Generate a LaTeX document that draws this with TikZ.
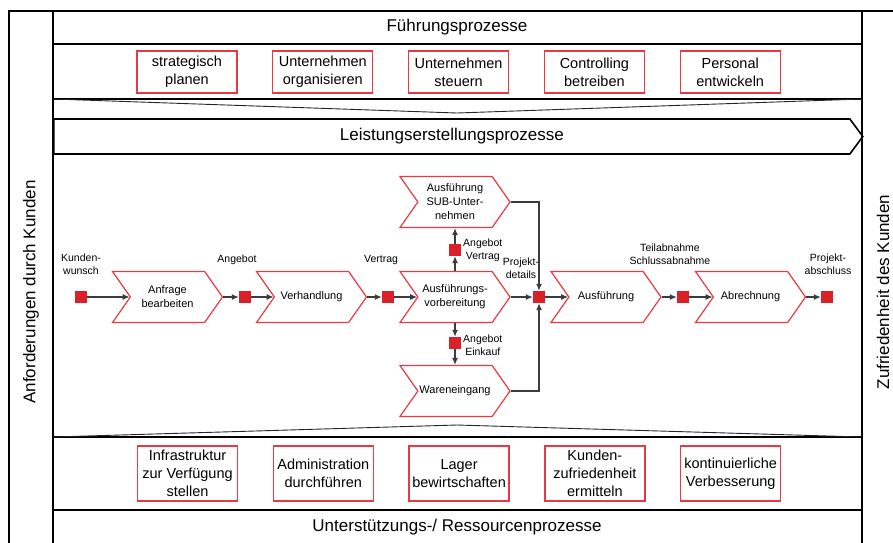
\documentclass[tikz,border=0pt]{standalone}
\usepackage{fontspec}
\setmainfont{Liberation Sans}
\usetikzlibrary{shapes,arrows,arrows.meta,positioning,calc}

\definecolor{boxred}{RGB}{232,58,68}
\definecolor{evred}{RGB}{218,32,40}
\definecolor{lnk}{RGB}{60,60,60}

\begin{document}
\begin{tikzpicture}[
  x=1pt, y=-1pt,
  node distance=34.5pt,
  frame/.style={line width=1.6pt, draw=black},
  funnel/.style={line width=0.9pt, draw=black!85},
  task/.style={rectangle, draw=boxred, line width=1.3pt, minimum width=100pt, minimum height=42pt, inner sep=1pt, align=center, font=\fontsize{14.5}{18}\selectfont},
  func/.style={signal, signal from=west, signal to=east, signal pointer angle=110, draw=boxred, line width=1.2pt, fill=white, minimum width=110pt, minimum height=51pt, inner sep=1pt, align=center, font=\fontsize{11}{14}\selectfont},
  event/.style={rectangle, fill=evred, minimum size=12pt, inner sep=0pt},
  lbl/.style={align=center, inner sep=0pt, font=\fontsize{10.5}{13}\selectfont},
  head/.style={inner sep=0pt, font=\fontsize{17}{20}\selectfont},
  arrow/.style={-{Latex[length=7pt,width=6pt]}, line width=1.2pt, draw=lnk}
]
  \useasboundingbox (0,0) rectangle (893,542);
  \clip (0,0) rectangle (893,542);

  % Rahmen
  \draw[frame] (9,560) -- (9,11) -- (900,11);
  \draw[frame] (53,11) -- (53,560);
  \draw[frame] (862,11) -- (862,560);
  \draw[frame] (53,44) -- (862,44);
  \draw[frame] (53,99) -- (862,99);
  \draw[frame] (53,437) -- (862,437);
  \draw[frame] (53,510) -- (862,510);
  \draw[funnel] (53,99) -- (457,113) -- (862,99);
  \draw[funnel] (53,437) -- (457,425) -- (862,437);

  % Seitentexte
  \node[head, rotate=90] (links) at (31,292) {Anforderungen durch Kunden};
  \node[head, rotate=90] (rechts) at (883,292) {Zufriedenheit des Kunden};

  % Fuehrungsprozesse
  \node[head] (fhead) at (457,27) {Führungsprozesse};
  \node[task] (f1) at (187,72) {strategisch\\planen};
  \node[task, right=of f1] (f2) {Unternehmen\\organisieren};
  \node[task, right=of f2] (f3) {Unternehmen\\steuern};
  \node[task, right=of f3] (f4) {Controlling\\betreiben};
  \node[task, right=of f4] (f5) {Personal\\entwickeln};

  % Leistungserstellung
  \node[signal, signal to=east, signal pointer angle=107, frame, minimum width=809pt, minimum height=35pt, anchor=west, font=\fontsize{17}{20}\selectfont] (leist) at (53,136.5) {Leistungserstellungsprozesse};

  \node[func] (anfr) at (167.5,297) {Anfrage\\bearbeiten};
  \node[func] (verh) at (311.5,297) {Verhandlung};
  \node[func] (vorb) at (455,297) {Ausführungs-\\vorbereitung};
  \node[func] (sub) at (455,202) {Ausführung\\SUB-Unter-\\nehmen};
  \node[func] (waren) at (455,391) {Wareneingang};
  \node[func] (ausf) at (606,297) {Ausführung};
  \node[func] (abr) at (750.5,297) {Abrechnung};

  \node[event] (e1) at (81,297) {};
  \node[event] (e2) at (245,297) {};
  \node[event] (e3) at (388,297) {};
  \node[event] (e4) at (539,297) {};
  \node[event] (e5) at (683,297) {};
  \node[event] (e6) at (827,297) {};
  \node[event] (eup) at (455,250) {};
  \node[event] (edn) at (455,343) {};

  \node[lbl] (l1) at (81,264) {Kunden-\\wunsch};
  \node[lbl] (l2) at (237,260) {Angebot};
  \node[lbl] (l3) at (381,260) {Vertrag};
  \node[lbl] (l4) at (521,268) {Projekt-\\details};
  \node[lbl] (l5) at (670,254) {Teilabnahme\\Schlussabnahme};
  \node[lbl] (l6) at (828,264) {Projekt-\\abschluss};
  \node[lbl, anchor=west] (l7) at (463,250) {Angebot\\Vertrag};
  \node[lbl, anchor=west] (l8) at (463,345) {Angebot\\Einkauf};

  \draw[arrow] (e1) -- (anfr.west);
  \draw[arrow] (anfr.east) -- (e2);
  \draw[arrow] (e2) -- (verh.west);
  \draw[arrow] (verh.east) -- (e3);
  \draw[arrow] (e3) -- (vorb.west);
  \draw[arrow] (vorb.north) -- (eup);
  \draw[arrow] (eup) -- (sub.south);
  \draw[arrow] (vorb.south) -- (edn);
  \draw[arrow] (edn) -- (waren.north);
  \draw[arrow] (vorb.east) -- (e4);
  \draw[arrow] (sub.east) -| (e4);
  \draw[arrow] (waren.east) -| (e4);
  \draw[arrow] (e4) -- (ausf.west);
  \draw[arrow] (ausf.east) -- (e5);
  \draw[arrow] (e5) -- (abr.west);
  \draw[arrow] (abr.east) -- (e6);

  % Unterstuetzungsprozesse
  \node[task, minimum height=55pt] (s1) at (187.5,473.5) {Infrastruktur\\zur Verfügung\\stellen};
  \node[task, minimum height=55pt, right=of s1] (s2) {Administration\\durchführen};
  \node[task, minimum height=55pt, right=of s2] (s3) {Lager\\bewirtschaften};
  \node[task, minimum height=55pt, right=of s3] (s4) {Kunden-\\zufriedenheit\\ermitteln};
  \node[task, minimum height=55pt, right=of s4] (s5) {kontinuierliche\\Verbesserung};
  \node[head] (uhead) at (457,527) {Unterstützungs-/ Ressourcenprozesse};
\end{tikzpicture}
\end{document}
